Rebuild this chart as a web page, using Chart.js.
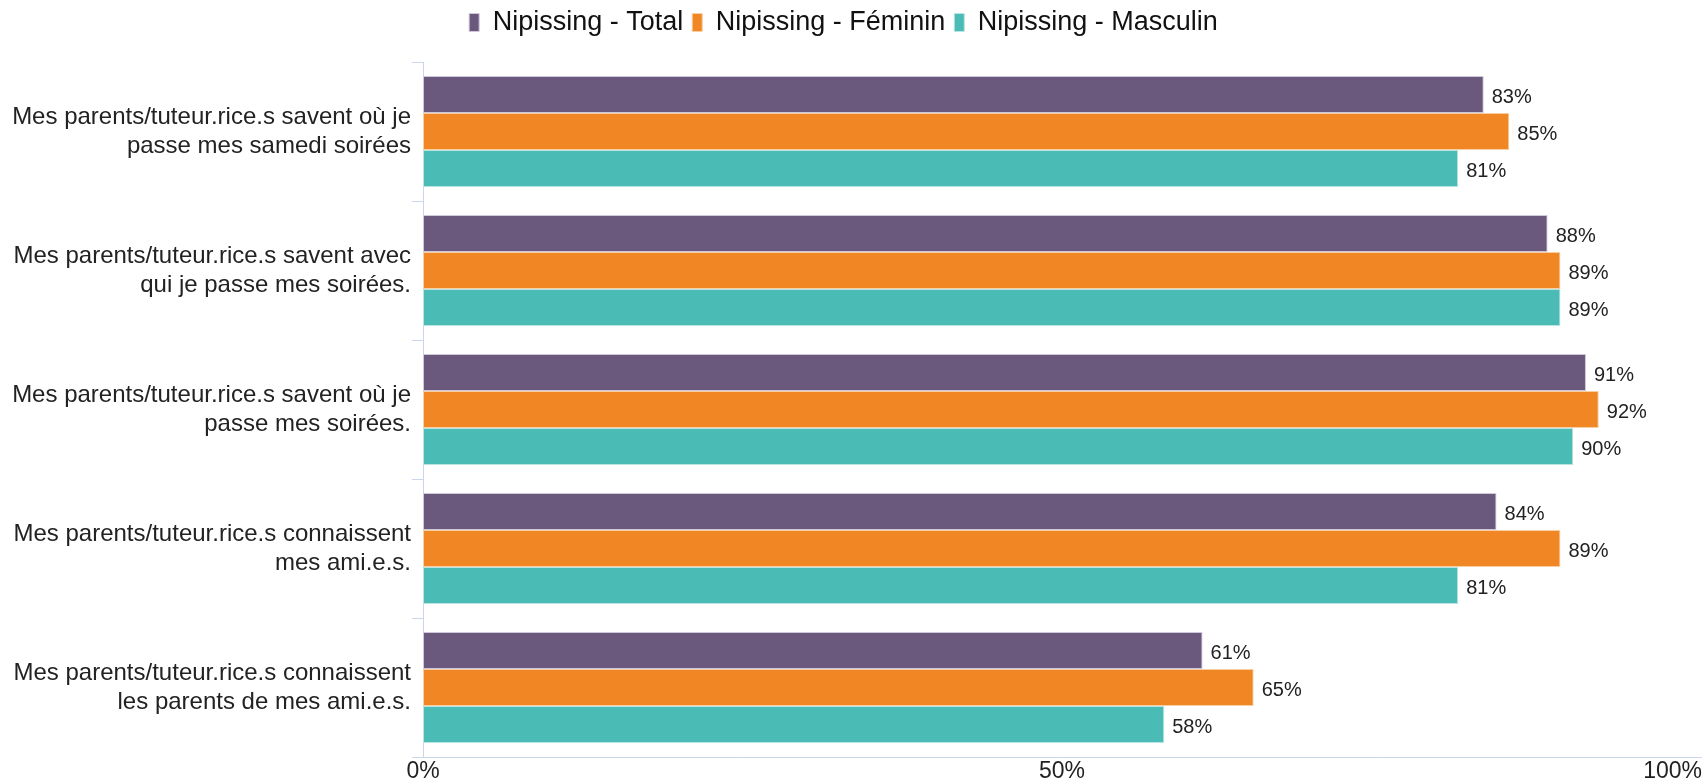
<!DOCTYPE html>
<html>
<head>
<meta charset="utf-8">
<script src="https://cdn.jsdelivr.net/npm/chart.js@4/dist/chart.umd.min.js"></script>
<style>
  html, body { margin: 0; padding: 0; background: #fff; }
  #wrap { width: 1704px; height: 779px; }
</style>
</head>
<body>
<div id="wrap"><canvas id="chart" width="1704" height="779"></canvas></div>
<script>
// categories (multi-line labels)
const categories = [
  ['Mes parents/tuteur.rice.s savent où je', 'passe mes samedi soirées'],
  ['Mes parents/tuteur.rice.s savent avec', 'qui je passe mes soirées.'],
  ['Mes parents/tuteur.rice.s savent où je', 'passe mes soirées.'],
  ['Mes parents/tuteur.rice.s connaissent', 'mes ami.e.s.'],
  ['Mes parents/tuteur.rice.s connaissent', 'les parents de mes ami.e.s.']
];

// series values (%)
const total = [83, 88, 91, 84, 61];
const feminin = [85, 89, 92, 89, 65];
const masculin = [81, 89, 90, 81, 58];

// x tick labels
const xTicks = [0, 50, 100];

const FONT = '"Liberation Sans", Arial, sans-serif';
const AXIS = '#ccd6eb';

// value labels at the end of each bar
const valueLabels = {
  id: 'valueLabels',
  afterDatasetsDraw(chart) {
    const ctx = chart.ctx;
    ctx.save();
    ctx.font = '20px ' + FONT;
    ctx.fillStyle = '#222';
    ctx.textAlign = 'left';
    ctx.textBaseline = 'middle';
    chart.data.datasets.forEach((ds, i) => {
      chart.getDatasetMeta(i).data.forEach((bar, j) => {
        ctx.fillText(ds.data[j] + '%', bar.x + 8, bar.y + 3);
      });
    });
    ctx.restore();
  }
};

// x tick labels, last one kept inside the canvas
const xLabels = {
  id: 'xLabels',
  afterDraw(chart) {
    const ctx = chart.ctx;
    const sx = chart.scales.x;
    ctx.save();
    ctx.font = '23px ' + FONT;
    ctx.fillStyle = '#222';
    ctx.textBaseline = 'top';
    xTicks.forEach(v => {
      const txt = v + '%';
      const w = ctx.measureText(txt).width;
      let x = sx.getPixelForValue(v) - w / 2;
      if (x + w > chart.width - 2) x = chart.width - 2 - w;
      ctx.fillText(txt, x, sx.top + 3);
    });
    ctx.restore();
  }
};

// legend sits at the very top, chart area starts lower
const liftLegend = {
  id: 'liftLegend',
  afterLayout(chart) {
    const lg = chart.legend;
    if (!lg) return;
    const shift = lg.top - 0;
    lg.top -= shift;
    lg.bottom -= shift;
    lg.left -= 7;
    lg.right -= 7;
  }
};

new Chart(document.getElementById('chart'), {
  type: 'bar',
  data: {
    labels: categories,
    datasets: [
      { label: 'Nipissing - Total', data: total, backgroundColor: '#6a597d', borderColor: '#cfc8da' },
      { label: 'Nipissing - Féminin', data: feminin, backgroundColor: '#f08724', borderColor: '#f8cfa4' },
      { label: 'Nipissing - Masculin', data: masculin, backgroundColor: '#4bbbb5', borderColor: '#b9e4e1' }
    ]
  },
  options: {
    indexAxis: 'y',
    responsive: false,
    animation: false,
    layout: { padding: { top: 0, right: 3, left: 0, bottom: 0 } },
    datasets: {
      bar: {
        categoryPercentage: 0.8,
        barPercentage: 1.0,
        borderWidth: 1,
        borderSkipped: false
      }
    },
    plugins: {
      legend: {
        position: 'top',
        labels: {
          boxWidth: 10,
          boxHeight: 18,
          padding: 9,
          color: '#111',
          font: { family: FONT, size: 27 }
        }
      },
      tooltip: { enabled: false }
    },
    scales: {
      x: {
        min: 0,
        max: 100,
        ticks: { display: false, stepSize: 50 },
        grid: { display: false },
        border: { display: true, color: AXIS, width: 1 },
        afterFit(scale) { scale.height = 22; }
      },
      y: {
        ticks: {
          color: '#222',
          padding: 1,
          font: { family: FONT, size: 24, lineHeight: 1.2 }
        },
        grid: {
          drawOnChartArea: false,
          drawTicks: true,
          tickLength: 11,
          color: AXIS
        },
        border: { display: true, color: AXIS, width: 1 },
        afterFit(scale) {
          scale.width = 423;
          scale.paddingTop = 62;
          scale.paddingBottom = 0;
        }
      }
    }
  },
  plugins: [valueLabels, xLabels, liftLegend]
});
</script>
</body>
</html>
